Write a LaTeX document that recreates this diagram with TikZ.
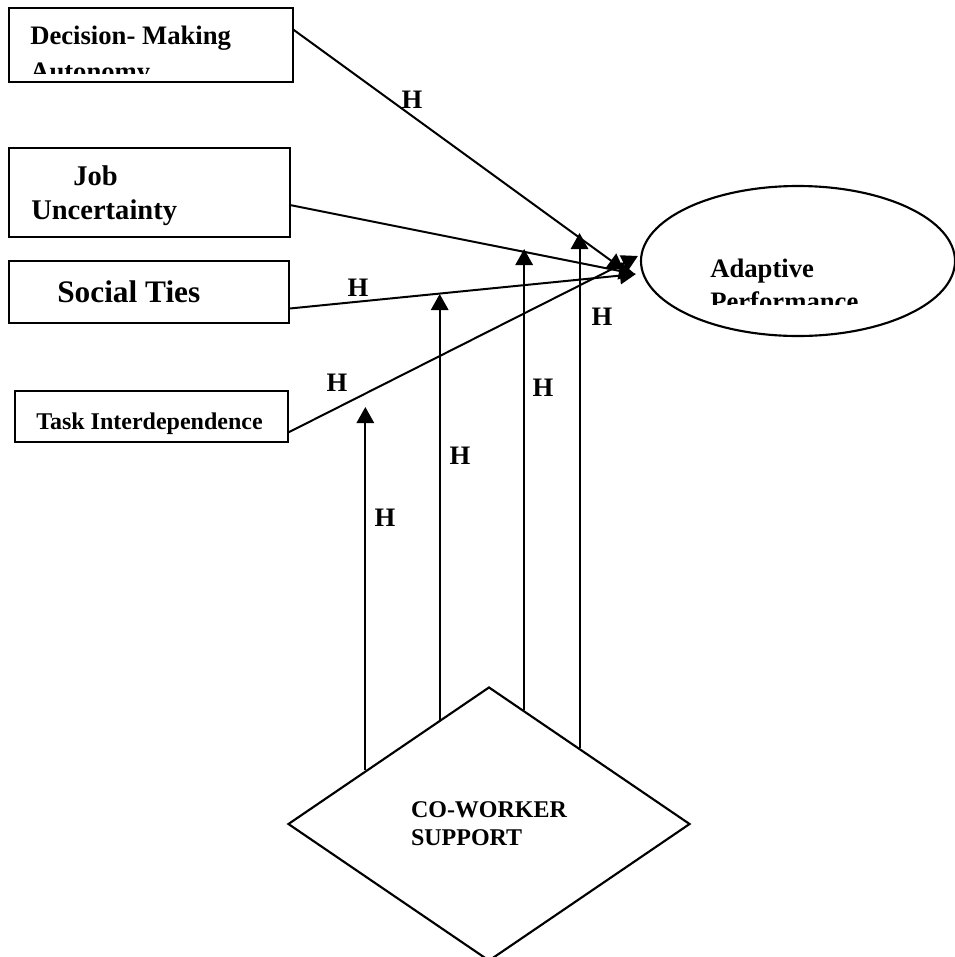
\documentclass[tikz,border=0pt]{standalone}
\usepackage{fontspec}
\setmainfont{Liberation Serif}
\usetikzlibrary{arrows.meta,positioning,shapes.geometric,calc}
\tikzset{
  >={Triangle[length=12pt,width=13pt]},
  factor/.style={draw,line width=1.1pt,inner sep=0pt},
  txt/.style 2 args={font=\bfseries\fontsize{#1}{#2}\selectfont,align=left,inner sep=0pt},
  link/.style={->,line width=1.5pt},
  hyp/.style={font=\bfseries\fontsize{20}{24}\selectfont,inner sep=0pt},
}
\begin{document}
\begin{tikzpicture}[x=0.75pt,y=-0.75pt]
  \useasboundingbox (0,0) rectangle (955,957);
  % predictors
  \node[factor,minimum width=213pt,minimum height=55.5pt] (dma) at (151,45) {};
  \node[factor,minimum width=210.75pt,minimum height=66.75pt] (ju) at (149.5,192.5) {};
  \node[factor,minimum width=210pt,minimum height=46.5pt] (st) at (149,292) {};
  \node[factor,minimum width=204.75pt,minimum height=38.25pt] (ti) at (151.5,416.5) {};
  \begin{scope}
    \clip (9,8) rectangle (293,73);
    \node[txt={20}{27},anchor=base west] (dmaT) at (30,80) {Decision- Making\\Autonomy};
  \end{scope}
  \node[txt={21.4}{25.5},anchor=base west] (juT) at (31,219) {\hspace{31.5pt}Job\\Uncertainty};
  \node[txt={23.5}{28},anchor=base west] (stT) at (57,302) {Social Ties};
  \node[txt={18}{22},anchor=base west] (tiT) at (36,429) {Task Interdependence};
  % outcome
  \node[draw,ellipse,line width=1.6pt,minimum width=235.5pt,minimum height=112.5pt] (ap) at (798,261) {};
  \begin{scope}
    \clip (642,186) rectangle (955,304);
    \node[txt={20}{24.75},anchor=base west] (apT) at (710,310) {Adaptive\\Performance};
  \end{scope}
  % moderator
  \node[draw,diamond,line width=1.6pt,minimum width=301.5pt,minimum height=205.5pt,txt={18}{21}] (cs) at (489,824) {CO-WORKER\\SUPPORT};
  % direct paths
  \draw[link] ($(dma.north east)!0.3!(dma.south east)$) -- ($(ap.west)+(-16,9)$);
  \draw[link] ($(ju.north east)!0.64!(ju.south east)$) -- ($(ap.west)+(-5,13)$);
  \draw[link] ($(st.north east)!0.76!(st.south east)$) -- ($(ap.west)+(-4,13)$);
  \draw[link] ($(ti.north east)!0.8!(ti.south east)$) -- ($(ap.west)+(-2,-5)$);
  % moderating paths
  \foreach \f/\e/\t [count=\i] in {0.612/west/407,0.244/west/294,0.174/east/249,0.448/east/233}{
    \coordinate (m\i) at ($(cs.north)!\f!(cs.\e)$);
    \coordinate (t\i) at (m\i |- 0,\t);
    \draw[link] (m\i) -- (t\i);
  }
  \foreach \x/\y [count=\i] in {412/100,358/288,337/383,602/317,543/388,460/456,385/518}
    \node[hyp] (h\i) at (\x,\y) {H};
\end{tikzpicture}
\end{document}
